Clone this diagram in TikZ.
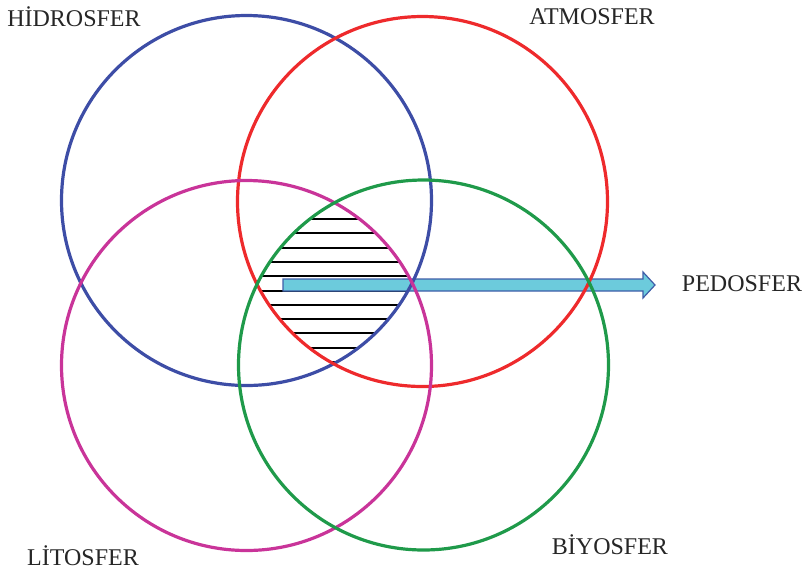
\documentclass[tikz,border=0pt]{standalone}
\usepackage{fontspec}
\setmainfont{Liberation Serif}
\begin{document}
\begin{tikzpicture}[x=1pt,y=-1pt,
  sphere/.style={line width=3.2pt},
  hatchline/.style={line width=2pt, black},
  lbl/.style={font=\fontsize{24}{28}\selectfont, text=black!85, inner sep=0pt}]
\definecolor{hydro}{HTML}{3D4DA6}
\definecolor{atmo}{HTML}{EE2A2C}
\definecolor{litho}{HTML}{C93499}
\definecolor{bio}{HTML}{1F9A4A}
\definecolor{arrowfill}{HTML}{6CCBDC}
\definecolor{arrowline}{HTML}{3F5DA8}
\useasboundingbox (0,0) rectangle (809,574);

% sphere centres
\coordinate (ch) at (246.5,200.5);
\coordinate (ca) at (422.5,201.5);
\coordinate (cl) at (246.5,365.5);
\coordinate (cb) at (423.5,365);

% hatched common region of all four spheres
\begin{scope}
  \clip (ch) circle (185);
  \clip (ca) circle (185);
  \clip (cl) circle (185);
  \clip (cb) circle (185);
  \foreach \k in {0,...,11}
    \draw[hatchline] (200,219+14.3*\k) -- (470,219+14.3*\k);
\end{scope}

% block arrow towards the soil sphere label
\draw[arrowline, fill=arrowfill, line width=1.2pt, line join=miter]
  (283,279) -- (643,279) -- (643,272) -- (655,285) -- (643,298) -- (643,291) -- (283,291) -- cycle;

% spheres
\draw[sphere, hydro] (ch) circle (185);
\draw[sphere, atmo] (ca) circle (185);
\draw[sphere, litho] (cl) circle (185);
\draw[sphere, bio] (cb) circle (185);

% labels
\node[lbl] (hid) at (74,17) {HİDROSFER};
\node[lbl] (atm) at (592,17) {ATMOSFER};
\node[lbl] (ped) at (742,284) {PEDOSFER};
\node[lbl] (lit) at (83,556) {LİTOSFER};
\node[lbl] (biy) at (610,545) {BİYOSFER};
\end{tikzpicture}
\end{document}
